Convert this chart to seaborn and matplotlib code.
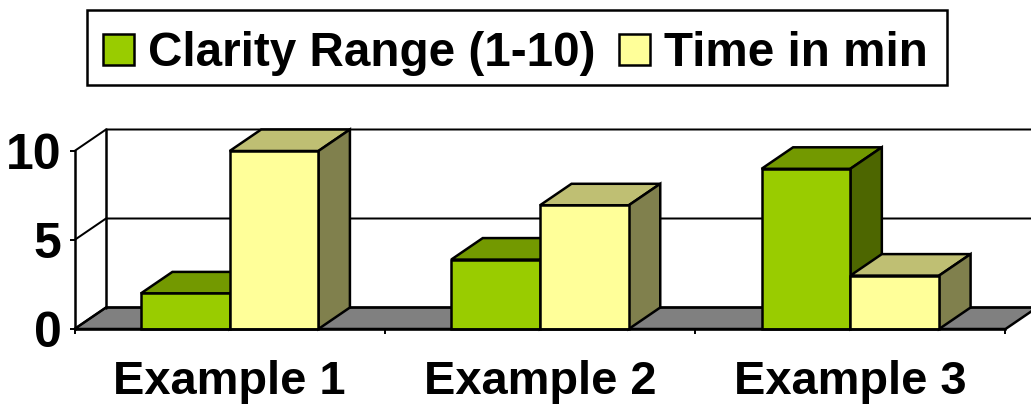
import matplotlib
matplotlib.use("Agg")
import matplotlib.pyplot as plt
import pandas as pd
import seaborn as sns
from matplotlib.patches import Polygon, Rectangle

categories = ["Example 1", "Example 2", "Example 3"]
clarity = [2, 3.9, 9]
time_min = [10, 6.95, 3]
series_names = ["Clarity Range (1-10)", "Time in min"]
y_ticks = [0, 5, 10]

W, H = 1031, 404
sns.set_theme(style="white")
plt.rcParams["font.family"] = ["Liberation Sans", "DejaVu Sans"]
plt.rcParams["font.weight"] = "bold"

df = pd.DataFrame({
    "cat": categories * 2,
    "series": [series_names[0]] * 3 + [series_names[1]] * 3,
    "value": clarity + time_min,
})

fig = plt.figure(figsize=(W / 100, H / 100), dpi=100, facecolor="white")
AXW = 931.0
ax = fig.add_axes([74.5 / W, (H - 329) / H, AXW / W, 178 / H])
ax.patch.set_alpha(0)

LW = 1.8
front = ["#99CC00", "#FFFF99"]
top = ["#739900", "#BFBF73"]
side = ["#4D6600", "#80804D"]

sns.barplot(data=df, x="cat", y="value", hue="series", hue_order=series_names,
            palette=front, width=0.572, gap=0, dodge=True, legend=False, ax=ax,
            edgecolor="black", linewidth=LW, saturation=1, zorder=5)

ax.set_xlim(-0.5, 2.5)
ax.set_ylim(0, 10)
ax.set_xlabel("")
ax.set_ylabel("")

DX = 31.5 / AXW * 3
DY = 21.5 / 178 * 10
x0, x1 = ax.get_xlim()

# floor and back wall
ax.add_patch(Polygon([(x0, 0), (x1, 0), (x1 + DX, DY), (x0 + DX, DY)], closed=True,
                     facecolor="#808080", edgecolor="black", lw=LW, clip_on=False, zorder=1))
for t in y_ticks:
    ax.plot([x0, x0 + DX, x1 + DX], [t, t + DY, t + DY], color="black", lw=LW * 0.8,
            clip_on=False, zorder=2, solid_joinstyle="miter")
ax.plot([x0 + DX, x0 + DX], [DY, 10 + DY], color="black", lw=LW, clip_on=False, zorder=2)

# depth faces of each bar
for i, cont in enumerate(ax.containers):
    for b in cont:
        xa, xb, h = b.get_x(), b.get_x() + b.get_width(), b.get_height()
        ax.add_patch(Polygon([(xa, h), (xb, h), (xb + DX, h + DY), (xa + DX, h + DY)], closed=True,
                             facecolor=top[i], edgecolor="black", lw=LW, clip_on=False, zorder=3 + i * 0.5))
        ax.add_patch(Polygon([(xb, 0), (xb, h), (xb + DX, h + DY), (xb + DX, DY)], closed=True,
                             facecolor=side[i], edgecolor="black", lw=LW, clip_on=False, zorder=3 + i * 0.5))
    for b in cont:
        b.set_clip_on(False)

sns.despine(ax=ax, top=True, right=True)
for s in ("left", "bottom"):
    ax.spines[s].set_color("black")
    ax.spines[s].set_linewidth(LW)
    ax.spines[s].set_zorder(6)

ax.set_yticks(y_ticks)
ax.set_xticks(range(len(categories)))
ax.set_xticklabels(categories)
ax.set_xticks([x0, 0.5, 1.5, x1], minor=True)
ax.tick_params(axis="y", left=True, length=3.5, width=1.4, color="black", pad=6,
               labelsize=36, labelcolor="black")
ax.tick_params(axis="x", which="major", bottom=False, length=0, pad=22, labelsize=33.8, labelcolor="black")
ax.tick_params(axis="x", which="minor", bottom=True, length=3.5, width=1.4, color="black")

# legend frame, with the entries sitting a little low inside it as in the reference
fig.add_artist(Rectangle((87 / W, (H - 85) / H), 860 / W, 75 / H, transform=fig.transFigure,
                         facecolor="white", edgecolor="black", lw=LW))
handles = list(ax.containers)
leg = fig.legend([c[0] for c in handles], series_names, loc="center",
                 bbox_to_anchor=(515.5 / W, (H - 53.5) / H), ncol=2,
                 prop={"family": "Liberation Sans", "weight": "bold", "size": 34.3},
                 labelcolor="black", frameon=False,
                 handlelength=0.64, handleheight=0.64, handletextpad=0.3,
                 columnspacing=0.5, borderpad=0, borderaxespad=0)

fig.savefig("out.png", dpi=100)
